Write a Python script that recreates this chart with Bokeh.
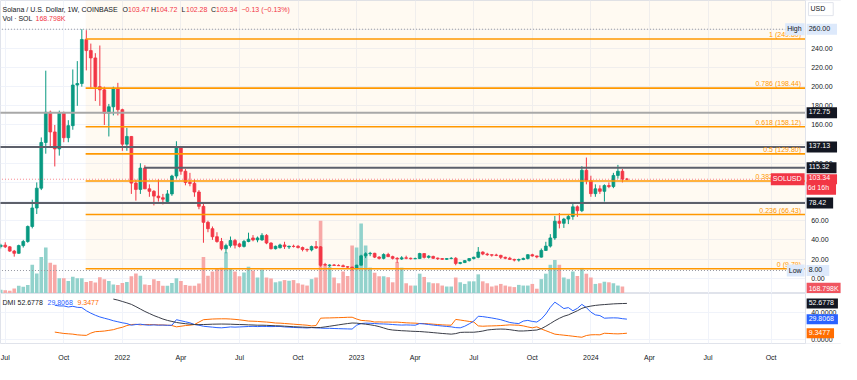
import datetime as dt
from bokeh.plotting import figure
from bokeh.models import Range1d, FixedTicker, Label, ColumnDataSource
from bokeh.layouts import column
from bokeh.embed import file_html
from bokeh.resources import INLINE
from bokeh.core.properties import value

# ---------------- data (weekly SOLUSD, Coinbase) ----------------
first_week = "2021-06-28"

opens = [33.0, 34.5, 32.7, 28.3, 26.0, 34.0, 38.3, 54.0, 73.3, 94.0,
         141.7, 173.3, 152.7, 135.0, 173.0, 146.7, 159.3, 201.7, 203.3, 249.3,
         237.7, 230.0, 200.0, 196.7, 172.3, 179.0, 198.3, 176.0, 140.0, 148.0,
         99.3, 92.7, 115.0, 93.3, 90.7, 85.7, 84.0, 80.0, 88.0, 106.7,
         136.7, 111.7, 100.0, 99.0, 90.0, 75.0, 58.3, 51.7, 43.3, 38.3,
         30.7, 34.0, 39.3, 35.8, 33.2, 38.3, 42.0, 40.0, 40.0, 44.7,
         36.7, 30.8, 31.8, 34.7, 32.6, 33.3, 33.3, 32.0, 30.0, 29.5,
         33.0, 32.7, 14.3, 13.0, 13.8, 13.3, 13.0, 12.0, 11.5, 10.0,
         13.6, 23.3, 25.5, 26.0, 22.0, 20.7, 24.7, 22.5, 20.7, 20.0,
         21.3, 20.8, 20.3, 20.5, 25.7, 21.7, 22.7, 21.0, 20.5, 19.7,
         20.5, 20.8, 15.4, 16.3, 18.3, 20.5, 21.8, 27.3, 25.2, 24.5,
         24.2, 23.8, 21.8, 20.8, 19.6, 18.9, 19.5, 20.6, 24.5, 23.2,
         22.0, 29.0, 33.5, 42.0, 59.5, 57.3, 61.7, 64.5, 74.5, 70.5,
         112.7, 101.7, 88.3, 93.3, 90.7, 96.7, 95.7, 107.3, 111.7, 103.47]

highs = [36.0, 37.5, 33.5, 29.5, 35.0, 40.0, 55.0, 82.0, 100.0, 147.0,
         216.7, 175.0, 160.0, 175.0, 174.0, 165.0, 218.0, 226.7, 260.0, 259.0,
         245.0, 235.0, 243.0, 200.0, 182.0, 200.0, 204.0, 177.0, 157.0, 148.5,
         103.0, 120.0, 118.0, 98.0, 92.0, 103.0, 88.0, 92.0, 108.0, 143.0,
         137.5, 114.0, 110.0, 103.0, 92.0, 78.0, 60.0, 54.0, 48.0, 42.0,
         36.0, 43.5, 41.0, 37.0, 40.0, 47.5, 45.0, 43.5, 47.0, 46.0,
         37.5, 34.0, 36.0, 38.0, 34.0, 35.0, 34.5, 33.0, 31.0, 34.0,
         38.8, 33.5, 16.0, 14.5, 14.8, 14.5, 14.3, 12.3, 12.0, 14.0,
         24.5, 27.0, 27.5, 26.5, 23.0, 26.0, 26.5, 23.5, 22.0, 23.0,
         23.5, 21.5, 21.5, 26.5, 26.0, 24.0, 23.5, 21.5, 21.0, 21.0,
         22.0, 22.0, 17.0, 18.8, 20.8, 22.5, 32.5, 28.0, 26.5, 25.0,
         25.5, 24.5, 22.5, 22.3, 20.3, 20.5, 21.5, 25.0, 25.5, 23.5,
         31.0, 38.0, 46.0, 65.0, 68.0, 63.0, 66.0, 78.0, 76.0, 117.0,
         126.0, 107.0, 98.0, 97.0, 98.0, 100.0, 110.0, 118.3, 114.0, 104.72]

lows = [31.0, 31.5, 27.5, 22.5, 25.5, 32.0, 37.0, 52.0, 67.0, 92.0,
        130.0, 136.7, 116.7, 128.0, 142.0, 142.0, 155.0, 180.0, 200.0, 217.0,
        199.0, 185.0, 180.0, 160.0, 148.0, 170.0, 170.0, 133.0, 133.0, 88.0,
        81.0, 88.0, 93.0, 85.0, 76.0, 80.0, 77.0, 78.0, 86.0, 104.0,
        108.0, 97.0, 96.0, 85.0, 72.0, 37.0, 48.0, 40.0, 37.0, 29.0,
        26.0, 32.0, 31.0, 32.0, 32.0, 37.5, 38.5, 37.5, 39.0, 35.5,
        30.0, 30.0, 31.0, 30.5, 30.5, 32.0, 31.0, 28.0, 27.5, 28.0,
        30.5, 12.0, 12.6, 11.8, 12.8, 12.8, 11.6, 10.8, 8.0, 9.5,
        13.2, 21.0, 23.0, 21.0, 19.5, 19.6, 22.0, 19.5, 16.0, 19.0,
        19.8, 19.5, 19.8, 20.0, 20.5, 20.5, 20.0, 19.0, 19.2, 19.0,
        19.8, 13.5, 14.5, 15.8, 17.5, 19.5, 20.8, 24.0, 23.3, 22.5,
        23.0, 20.0, 19.8, 19.0, 17.5, 17.3, 18.8, 19.5, 22.5, 20.8,
        21.5, 28.5, 32.0, 40.0, 52.0, 52.5, 56.5, 61.0, 64.0, 69.0,
        98.0, 85.0, 85.0, 88.0, 80.0, 94.0, 94.0, 104.0, 100.0, 102.28]

closes = [34.5, 32.7, 28.3, 26.0, 34.0, 38.3, 54.0, 73.3, 94.0, 141.7,
          173.3, 152.7, 135.0, 173.0, 146.7, 159.3, 201.7, 203.3, 249.3, 237.7,
          230.0, 200.0, 196.7, 172.3, 179.0, 198.3, 176.0, 140.0, 148.0, 99.3,
          92.7, 115.0, 93.3, 90.7, 85.7, 84.0, 82.5, 88.0, 106.7, 136.7,
          111.7, 100.0, 99.0, 90.0, 75.0, 58.3, 51.7, 43.3, 38.3, 30.7,
          34.0, 39.3, 34.5, 33.2, 38.3, 40.7, 40.0, 42.0, 44.7, 36.7,
          30.8, 33.3, 34.7, 33.0, 33.3, 33.1, 32.0, 30.0, 29.5, 33.0,
          31.5, 13.5, 13.6, 13.8, 13.3, 13.0, 12.0, 11.5, 10.0, 13.6,
          23.3, 25.5, 26.0, 22.0, 20.7, 24.7, 22.5, 20.7, 20.0, 21.3,
          20.8, 20.3, 20.5, 25.7, 21.7, 23.0, 20.8, 20.3, 19.7, 20.5,
          20.8, 15.4, 16.3, 18.3, 20.5, 21.8, 27.3, 25.2, 24.5, 24.0,
          23.8, 21.8, 20.8, 19.6, 18.9, 19.5, 20.6, 24.5, 23.2, 22.2,
          29.0, 33.5, 42.0, 59.5, 57.3, 61.7, 64.5, 74.5, 70.5, 112.7,
          101.7, 88.3, 93.3, 90.7, 96.7, 95.7, 107.3, 111.7, 103.47, 103.34]

volume_k = [4000, 3300, 3000, 5300, 8000, 7000, 9000, 30000, 21000, 38000,
            48000, 32000, 30000, 16000, 16000, 13000, 17500, 16000, 16000, 12000,
            13000, 11500, 17000, 15000, 13000, 9500, 9000, 11000, 12000, 18000,
            21000, 18500, 9500, 9000, 15000, 13000, 8000, 8000, 11000, 16000,
            13000, 9000, 8000, 8000, 10500, 38000, 18500, 23000, 26000, 27000,
            43000, 26000, 23000, 18000, 22000, 28000, 24000, 16700, 25000, 16700,
            15700, 11700, 12700, 14000, 13300, 14000, 10700, 9300, 8300, 15000,
            16700, 76000, 29000, 28000, 16700, 10700, 23000, 18300, 50000, 48000,
            73000, 50000, 27000, 21700, 18000, 18000, 17000, 11700, 33000, 27000,
            10700, 8300, 8300, 20700, 17300, 11700, 10700, 10700, 8300, 7300,
            7300, 16700, 11700, 10000, 12700, 12700, 20000, 12700, 10700, 7300,
            8300, 10000, 8300, 7300, 6700, 9000, 8300, 8300, 10000, 5000,
            15000, 20700, 30000, 35000, 30000, 16700, 15000, 23000, 18300, 26700,
            20700, 16700, 10000, 10700, 12300, 11700, 10700, 8300, 7300, 168.798]

dmi_start_week = 12
plus_di = [50, 49, 49, 47.5, 48.5, 47, 46.6, 42, 38.5, 35.5,
           33, 31.2, 29.5, 27.5, 26, 24.5, 23.4, 21, 22, 22.5,
           21.5, 21, 21.5, 21, 21.2, 20.8, 21, 29, 27.5, 26,
           24.5, 22, 21, 19.5, 18.8, 18.2, 17.5, 17.2, 17.8, 18.5,
           18.2, 18.5, 18.8, 19.1, 19.4, 19, 19.3, 19.1, 19, 19.1,
           19.2, 18.5, 18.2, 17.7, 17.5, 17.3, 17, 17.5, 17.2, 16.8,
           16.5, 16.5, 16.2, 16, 15.8, 15.6, 15.4, 21, 23.4, 24,
           23.8, 23.4, 23, 22.8, 22.5, 22, 21.5, 21.2, 21.4, 21.2,
           21, 23.4, 22.8, 22, 21.2, 20.5, 19.8, 19.2, 18.6, 17.5,
           17.2, 19.5, 23, 27, 34, 33.5, 32.5, 31.5, 30.3, 29,
           27, 25, 24, 23.4, 27, 28, 26.5, 25.6, 30, 37.3,
           47, 54.5, 50, 45.2, 46.6, 42, 45.5, 51.3, 46.6, 40,
           36, 35, 31.2, 31.5, 31.7, 31.5, 30.5, 29.8068]
minus_di = [11, 10, 9, 8.5, 8, 7, 6.5, 6.2, 9.5, 11.6,
            12, 12.5, 13.5, 14.5, 16.5, 18, 20.5, 22, 22.3, 21.5,
            22, 22, 21.8, 21.5, 21.3, 21, 20.5, 18.6, 19.5, 20.5,
            21, 22, 25.5, 29, 29.5, 30, 30.2, 30.3, 30.3, 30,
            29.5, 28.8, 28, 27, 26.8, 26.5, 26, 25.6, 25, 24.2,
            24, 23.5, 23, 22.5, 22, 21.5, 21, 20, 20.5, 31.2,
            31.5, 31.6, 31.8, 32, 32.2, 32.5, 32.6, 30, 28, 27.5,
            27, 25.6, 25.8, 25.5, 25.6, 25.4, 25.5, 25, 24.5, 24.2,
            24, 23.4, 23.5, 23, 22.5, 22, 21.5, 21.2, 21, 29.4,
            28.5, 27.5, 26.5, 25.6, 20, 19.5, 19.8, 20, 20.2, 20.5,
            21, 21.5, 21.2, 21, 20, 18.5, 17.2, 18.6, 15.5, 13,
            10.5, 8, 7.2, 6.5, 5.8, 5, 4.2, 3.5, 6, 7,
            7.2, 7, 9.3, 9, 8.6, 8.4, 8.8, 9.3477]
adx_start_week = 25
adx = [59, 57.5, 55.5, 53.5, 51.3, 48, 44.5, 41, 38, 35,
       32.5, 30, 28, 26.5, 25, 24, 23.2, 22.5, 22, 21.8,
       22, 22.2, 22.5, 22.6, 22.7, 22.6, 22.5, 22.2, 22, 21.8,
       21.5, 21.3, 21, 21, 20.8, 20.5, 20.2, 20, 19.6, 19.2,
       18.8, 18.5, 18.2, 17.9, 17.7, 17.5, 17.7, 18.5, 19.5, 20.5,
       21.5, 22.5, 23.4, 24.2, 24, 23.2, 22.5, 21.6, 20.5, 19,
       17, 15, 14, 13.5, 13, 12.7, 12.3, 12, 11.8, 11.3,
       10.8, 10.2, 9.6, 9, 8.5, 8, 8.8, 10.5, 10.8, 10.8,
       10.8, 11.5, 12.5, 14, 14.7, 15.2, 15.4, 15.2, 14.5, 13.5,
       12.6, 12.6, 13, 13.5, 14, 16, 19.5, 23.4, 27.5, 31,
       34, 36, 39, 42, 45.5, 47.5, 48.8, 49.8, 50.5, 51,
       51.5, 52, 52.3, 52.5, 52.6778]

price_ticks = [0, 20, 40, 60, 80, 100, 120, 140, 160, 180, 200, 220, 240, 260]
dmi_ticks = [0, 40]
time_tick_dates = ["2021-07-01", "2021-10-01", "2022-01-01", "2022-04-01", "2022-07-01",
                   "2022-10-01", "2023-01-01", "2023-04-01", "2023-07-01", "2023-10-01",
                   "2024-01-01", "2024-04-01", "2024-07-01", "2024-10-01"]
time_tick_labels = ["Jul", "Oct", "2022", "Apr", "Jul", "Oct", "2023", "Apr", "Jul", "Oct",
                    "2024", "Apr", "Jul", "Oct"]

fib_ratios = ["0", "0.236", "0.382", "0.5", "0.618", "0.786", "1"]
fib_levels = [9.79, 66.43, 101.48, 129.80, 158.12, 198.44, 249.80]
fib_start_week = 18.85

hline_levels = [172.75, 137.13, 115.32, 78.42]
hline_start_weeks = [-5, -5, 31.85, -5]
high_mark = 260.00
low_mark = 8.00
last_ohlc = {"O": 103.47, "H": 104.72, "L": 102.28, "C": 103.34}
last_change = (-0.13, -0.13)
last_volume = "168.798K"
time_left = "6d 16h"

# ---------------- styling ----------------
UP, DOWN = "#089981", "#f23645"
VUP, VDOWN = "#92d2cc", "#f7a9a7"
TXT = "#131722"
FONT = "Liberation Sans"
FS = "7px"
GRID = "#f0f3fa"
W = 841
SCALE_W = 36                     # price-scale strip width (px)
PX_PER_WEEK = 4.505
X0 = -0.05
X1 = X0 + (W - SCALE_W) / PX_PER_WEEK     # end of chart area
XE = X0 + W / PX_PER_WEEK                 # end of figure
AXL = X1 + 0.25
INR = X1 - 0.2


def week_index(datestr):
    d = dt.date.fromisoformat(datestr)
    d = d + dt.timedelta(days=(7 - d.weekday()) % 7)
    return (d - dt.date.fromisoformat(first_week)).days // 7


def add_label(fig, x, y, text, color=TXT, bg=None, border=None, align="left",
              baseline="middle", x_units="data", y_offset=0, padding=None):
    kw = dict(x=x, y=y, x_units=x_units, y_units="data", text=text, text_color=color,
              text_font=FONT, text_font_size=FS, text_align=align,
              text_baseline=baseline, y_offset=y_offset, level="overlay")
    if bg is not None:
        kw.update(background_fill_color=bg, background_fill_alpha=1.0)
    if border is not None:
        kw.update(border_line_color=border, border_line_width=1)
    if padding is not None:
        kw["padding"] = padding
    fig.add_layout(Label(**kw))


def scale_strip(fig, ticks, fmt, ylo, yhi):
    # price-scale strip on the right: white background, separator, tick texts
    fig.quad(left=[X1], right=[XE + 1], bottom=[ylo], top=[yhi], fill_color="white",
             line_color=None)
    fig.segment(x0=[X1], y0=[ylo], x1=[X1], y1=[yhi], line_color="#e0e3eb", line_width=1)
    fig.text(x=[AXL + 1.0] * len(ticks), y=ticks, text=[fmt.format(t) for t in ticks],
             text_font=value(FONT), text_font_size=FS, text_color=TXT,
             text_align="left", text_baseline="middle")


n = len(opens)
xs = list(range(n))
colors = [UP if c >= o else DOWN for o, c in zip(opens, closes)]
vcolors = [VUP if c >= o else VDOWN for o, c in zip(opens, closes)]
src = ColumnDataSource(dict(
    x=xs, open=opens, high=highs, low=lows, close=closes,
    top=[max(o, c) for o, c in zip(opens, closes)],
    bottom=[min(o, c) for o, c in zip(opens, closes)],
    color=colors, vcolor=vcolors, vol=volume_k))

time_ticks = [week_index(d) for d in time_tick_dates]

# ---------------- main price pane ----------------
p = figure(width=W, height=293, x_range=Range1d(X0, XE), y_range=Range1d(-16, 290),
           x_axis_location=None, y_axis_location=None, output_backend="svg",
           toolbar_location=None, min_border_left=0, min_border_right=0,
           min_border_top=0, min_border_bottom=0, outline_line_color="#e0e3eb",
           background_fill_color="white", border_fill_color="white")
p.extra_y_ranges = {"vol": Range1d(0, 306000)}
p.xgrid.ticker = FixedTicker(ticks=time_ticks)
p.ygrid.ticker = FixedTicker(ticks=price_ticks)
for g in (p.xgrid, p.ygrid):
    g.grid_line_color = GRID

# fib area background
p.quad(left=[fib_start_week], right=[X1], bottom=[fib_levels[0]], top=[400],
       fill_color="#ff9800", fill_alpha=0.05, line_color=None)

# volume
p.vbar(x="x", width=0.8, top="vol", bottom=0, fill_color="vcolor", line_color=None,
       source=src, y_range_name="vol")

# candles
p.segment(x0="x", y0="high", x1="x", y1="low", line_color="color", line_width=1, source=src)
p.vbar(x="x", width=0.62, top="top", bottom="bottom", fill_color="color",
       line_color="color", line_width=0.8, source=src)

# horizontal levels
hl_colors = ["#a8a8a8", "#5d606b", "#5d606b", "#5d606b"]
p.segment(x0=hline_start_weeks, y0=hline_levels, x1=[X1] * len(hline_levels),
          y1=hline_levels, line_color=hl_colors, line_width=2)

# fib levels
p.segment(x0=[fib_start_week] * len(fib_levels), y0=fib_levels,
          x1=[X1] * len(fib_levels), y1=fib_levels, line_color="#ff9800", line_width=1.6)

# dotted markers
p.segment(x0=[X0 - 5, X0 - 5], y0=[high_mark, low_mark], x1=[X1, X1],
          y1=[high_mark, low_mark], line_color="#9598a1", line_width=1, line_dash="1 2")
p.segment(x0=[X0 - 5], y0=[last_ohlc["C"]], x1=[X1], y1=[last_ohlc["C"]],
          line_color=DOWN, line_alpha=0.6, line_width=1, line_dash="1 2")

scale_strip(p, price_ticks, "{:.2f}", -100, 400)

# fib labels
for r, lv in zip(fib_ratios, fib_levels):
    add_label(p, INR - 0.8, lv, f"{r} ({lv:.2f})", color="#ff9800", align="right",
              baseline="bottom", y_offset=1)

# header
hy1, hy2 = 281, 271
add_label(p, 2, hy1, "Solana / U.S. Dollar, 1W, COINBASE", x_units="screen")
hx = [(122, "O"), (150.5, "H"), (181, "L"), (210.5, "C")]
vx = [127.5, 155.5, 185.5, 215.5]
for (lx, key), v in zip(hx, vx):
    add_label(p, lx, hy1, key, x_units="screen")
    add_label(p, v, hy1, f"{last_ohlc[key]:.2f}", color=DOWN, x_units="screen")
add_label(p, 241, hy1, f"\u2212{abs(last_change[0]):.2f} (\u2212{abs(last_change[1]):.2f}%)",
          color=DOWN, x_units="screen")
add_label(p, 2, hy2, "Vol \u00b7 SOL", x_units="screen")
add_label(p, 35, hy2, last_volume, color=DOWN, x_units="screen")

# right-side scale labels
pad = (2, 7, 2, 4)
add_label(p, AXL + 0.4, 281, "USD", bg="white", border="#e0e3eb", padding=(2, 8, 2, 4))
add_label(p, INR, high_mark, "High", bg="#dde9fb", align="right", padding=(2, 3, 2, 3))
add_label(p, AXL, high_mark, f"{high_mark:.2f}", bg="#dde9fb", padding=pad)
for lv in hline_levels:
    add_label(p, AXL, lv, f"{lv:.2f}", color="white", bg=TXT, padding=pad)
add_label(p, INR, last_ohlc["C"], "SOLUSD", color="white", bg=DOWN, align="right",
          padding=(2, 3, 2, 3))
add_label(p, AXL, last_ohlc["C"], f"{last_ohlc['C']:.2f}", color="white", bg=DOWN,
          padding=(2, 7, 1, 4))
add_label(p, AXL, last_ohlc["C"], time_left, color="white", bg=DOWN,
          padding=(1, 7, 2, 4), y_offset=-9)
add_label(p, INR, low_mark, "Low", bg="#dde9fb", align="right", padding=(2, 3, 2, 3))
add_label(p, AXL, low_mark, f"{low_mark:.2f}", bg="#dde9fb", padding=pad)
add_label(p, AXL, -11, last_volume, color="white", bg="#f05560", padding=(2, 2, 2, 3))

# ---------------- DMI pane ----------------
q = figure(width=W, height=71, x_range=p.x_range, y_range=Range1d(-5.6, 67.1),
           x_axis_location="below", y_axis_location=None, output_backend="svg",
           toolbar_location=None, min_border_left=0, min_border_right=0,
           min_border_top=0, min_border_bottom=21, outline_line_color="#e0e3eb",
           background_fill_color="white", border_fill_color="white")
tt = FixedTicker(ticks=time_ticks)
q.xaxis.ticker = tt
q.xgrid.ticker = tt
q.ygrid.ticker = FixedTicker(ticks=dmi_ticks)
q.xaxis.major_label_overrides = {t: l for t, l in zip(time_ticks, time_tick_labels)}
q.xaxis.major_label_text_font = FONT
q.xaxis.major_label_text_font_size = FS
q.xaxis.major_label_text_color = TXT
q.xaxis.major_tick_line_color = None
q.xaxis.minor_tick_line_color = None
q.xaxis.axis_line_color = None
q.xaxis.major_label_standoff = 4
for g in (q.xgrid, q.ygrid):
    g.grid_line_color = GRID

dmi_x = list(range(dmi_start_week, dmi_start_week + len(plus_di)))
adx_x = list(range(adx_start_week, adx_start_week + len(adx)))
q.line(dmi_x, minus_di, line_color="#ff6d00", line_width=1)
q.line(dmi_x, plus_di, line_color="#2962ff", line_width=1)
q.line(adx_x, adx, line_color="#3a3d47", line_width=1)

scale_strip(q, dmi_ticks, "{:.4f}", -20, 80)

hy = 54
add_label(q, 2, hy, "DMI", x_units="screen")
add_label(q, 17, hy, f"{adx[-1]:.4f}", x_units="screen")
add_label(q, 47, hy, f"{plus_di[-1]:.4f}", color="#2962ff", x_units="screen")
add_label(q, 77, hy, f"{minus_di[-1]:.4f}", color="#ff6d00", x_units="screen")

add_label(q, AXL, adx[-1], f"{adx[-1]:.4f}", color="white", bg=TXT, padding=(2, 4, 2, 3))
add_label(q, AXL, plus_di[-1], f"{plus_di[-1]:.4f}", color="white", bg="#2962ff",
          padding=(2, 4, 2, 3))
add_label(q, AXL, minus_di[-1], f"{minus_di[-1]:.4f}", color="white", bg="#ff6d00",
          padding=(2, 4, 2, 3))

layout = column(p, q)
open("out.html", "w").write(file_html(layout, INLINE))
